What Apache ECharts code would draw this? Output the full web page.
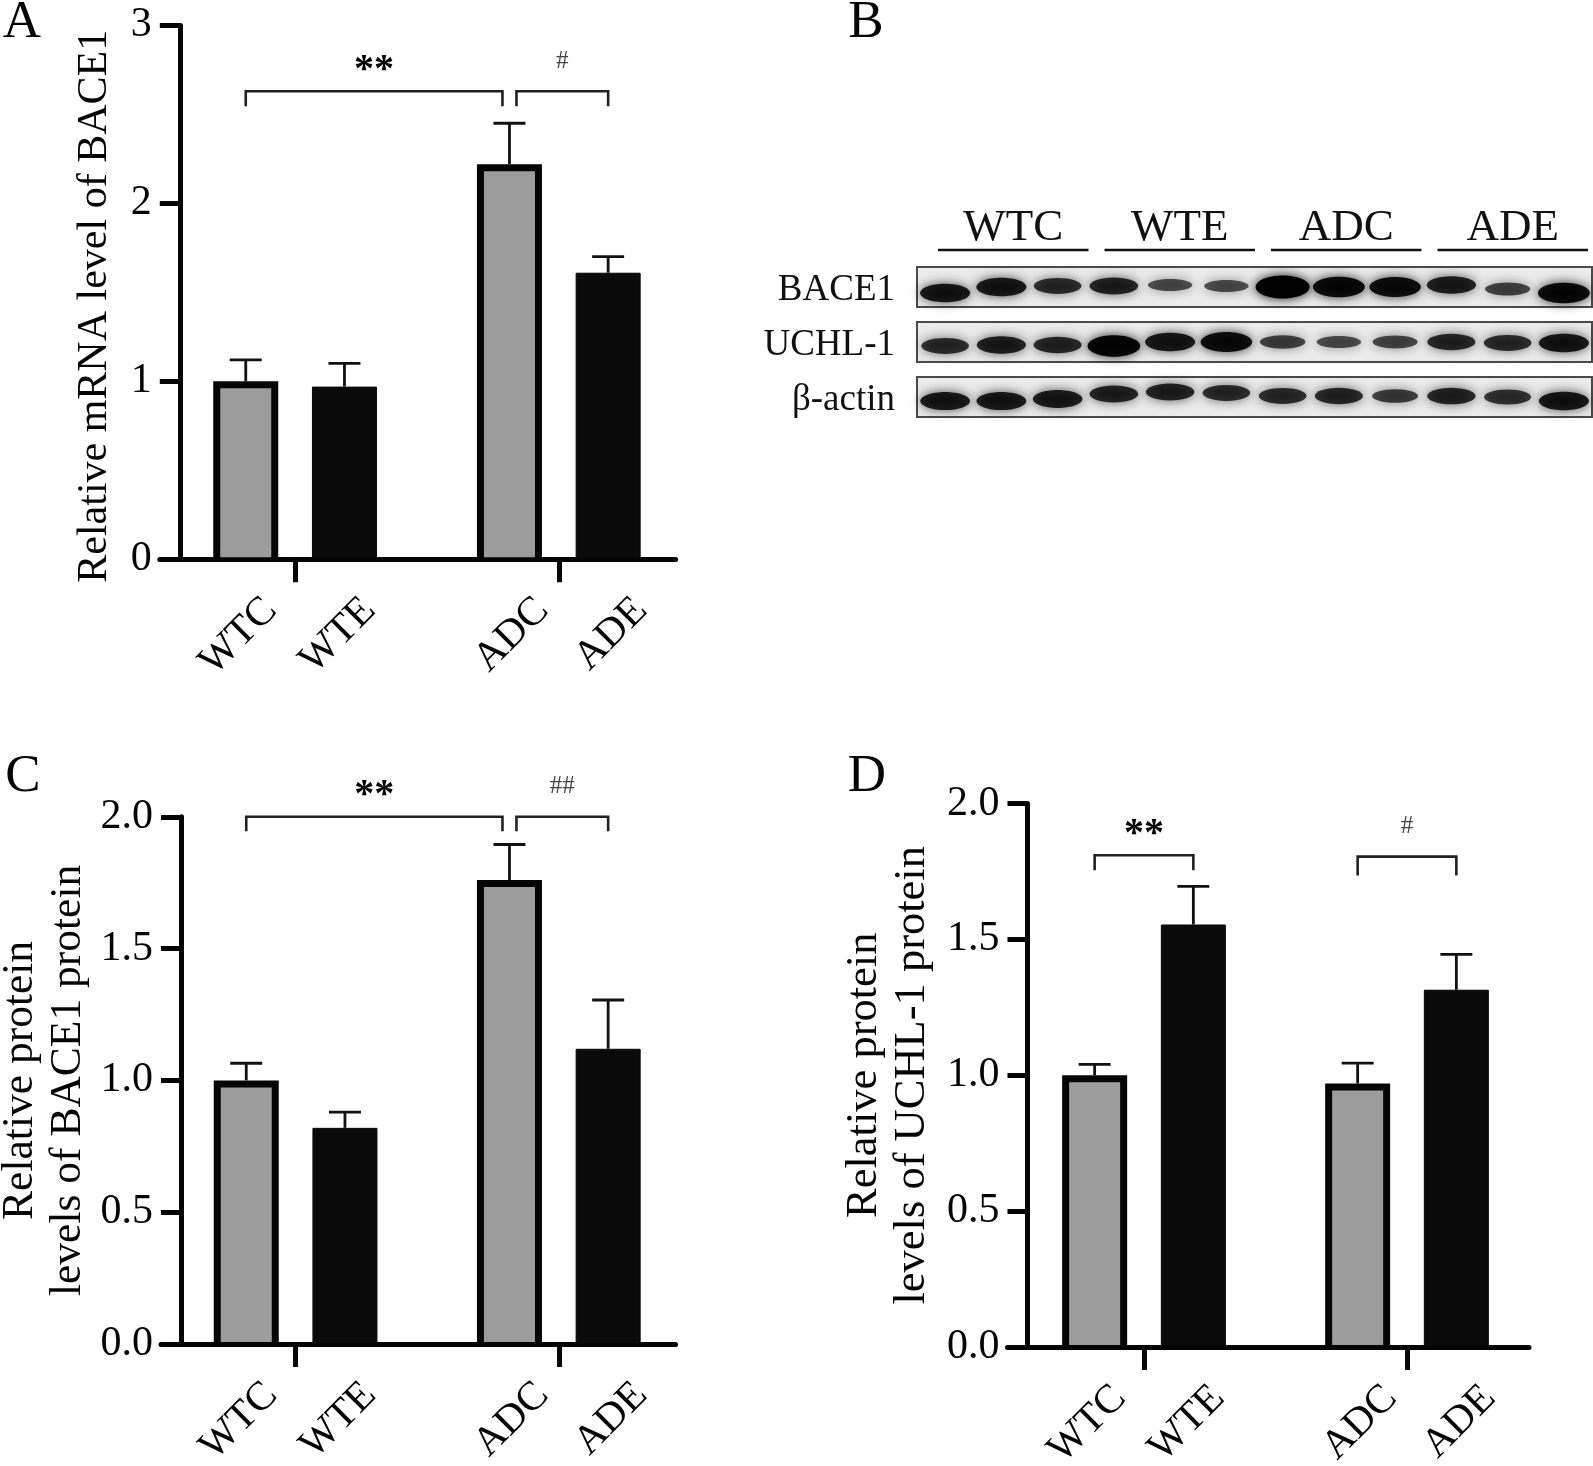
<!DOCTYPE html>
<html>
<head>
<meta charset="utf-8">
<style>html,body{margin:0;padding:0;background:#fff}#c{width:1593px;height:1466px}</style>
<script src="https://cdn.jsdelivr.net/npm/echarts@6/dist/echarts.min.js"></script>
</head>
<body>
<div id="c"></div>
<script>
// ---- data ----
const groups = ['WT', 'AD'];
const barLabels = ['WTC', 'WTE', 'ADC', 'ADE'];

const aControl = [1.0, 2.22];
const aExercise = [0.97, 1.61];
const aControlTop = [1.12, 2.45];
const aExerciseTop = [1.10, 1.70];
const aTicks = [0, 1, 2, 3];

const cControl = [1.0, 1.76];
const cExercise = [0.82, 1.12];
const cControlTop = [1.065, 1.895];
const cExerciseTop = [0.88, 1.305];
const cTicks = [0, 0.5, 1, 1.5, 2];

const dControl = [1.0, 0.97];
const dExercise = [1.555, 1.315];
const dControlTop = [1.04, 1.045];
const dExerciseTop = [1.695, 1.445];

// bracket: from bar, to bar, level, lower end of the legs
const aBrackets = [
  { from: 0, to: 2, level: 2.63, end: 2.545, text: '**', nudgeTo: -7 },
  { from: 2, to: 3, level: 2.63, end: 2.545, text: '#', nudgeFrom: 7 }
];
const cBrackets = [
  { from: 0, to: 2, level: 2.0, end: 1.945, text: '**', nudgeTo: -7 },
  { from: 2, to: 3, level: 2.0, end: 1.945, text: '##', nudgeFrom: 7 }
];
const dBrackets = [
  { from: 0, to: 1, level: 1.81, end: 1.755, text: '**' },
  { from: 2, to: 3, level: 1.805, end: 1.735, text: '#' }
];

const blotGroups = ['WTC', 'WTE', 'ADC', 'ADE'];
const blotRows = ['BACE1', 'UCHL-1', 'β-actin'];
const blotLanes = ['1','2','3','4','5','6','7','8','9','10','11','12'];
const bace1Bands = [0.72, 0.72, 0.55, 0.62, 0.32, 0.32, 1.0, 0.85, 0.82, 0.65, 0.38, 0.85];
const uchlBands = [0.55, 0.65, 0.58, 0.9, 0.72, 0.82, 0.4, 0.32, 0.36, 0.58, 0.55, 0.72];
const actinBands = [0.7, 0.7, 0.68, 0.62, 0.62, 0.55, 0.55, 0.58, 0.42, 0.6, 0.5, 0.72];
const bace1Shift = [6, 0, -1, -1, -2, -1, 0, 0, 0, -2, 2, 6];
const uchlShift = [4, 3, 3, 4, 0, 0, 0, 0, 0, 0, 1, 1];
const actinShift = [4, 4, 2, -3, -5, -4, -1, -1, -1, -1, 0, 4];

// ---- styling ----
const FONT = '"Liberation Serif","Times New Roman",serif';
const GREY = '#9c9c9c', INK = '#050505';
const BAR_W = 65, BORDER = 7, PITCH = 98.7;
const AXIS_W = 5;
const LABEL_NUDGE = [-8, 0];

const grid = [], xAxis = [], yAxis = [], series = [];

function panel(p) {
  const gi = grid.length;
  const band = p.tick2 - p.tick1;
  const left = p.tick1 - band / 2;
  const right = p.tick2 + band / 2;
  const h = p.bottom - p.top;
  // main grid
  grid.push({ left, width: right - left, top: p.top, height: h, outerBoundsMode: 'none' });
  xAxis.push({
    type: 'category', gridIndex: gi, data: groups,
    axisLine: { show: false },
    axisTick: { show: true, alignWithLabel: true, length: 23, lineStyle: { color: INK, width: AXIS_W } },
    axisLabel: { show: false }
  });
  yAxis.push({
    type: 'value', gridIndex: gi, min: 0, max: p.max, interval: p.interval,
    offset: left - p.axisX, splitLine: { show: false },
    axisLine: { show: true, onZero: false, lineStyle: { color: INK, width: AXIS_W } },
    axisTick: { show: true, length: 20, lineStyle: { color: INK, width: AXIS_W } },
    axisLabel: { fontFamily: FONT, fontSize: 42, color: INK, margin: 28, formatter: p.fmt },
    name: p.title, nameLocation: 'middle', nameGap: p.nameGap,
    nameTextStyle: { fontFamily: FONT, fontSize: p.titleSize, color: INK, lineHeight: 48, padding: p.namePad || 0 }
  });
  // frame grid that carries the baseline
  const fi = grid.length;
  const lineLeft = p.axisX - 20;
  grid.push({ left: lineLeft, width: p.lineRight - lineLeft, top: p.top, height: h, outerBoundsMode: 'none' });
  xAxis.push({
    type: 'value', gridIndex: fi, min: 0, max: 1, splitLine: { show: false },
    axisLine: { show: true, onZero: false, lineStyle: { color: INK, width: AXIS_W } },
    axisTick: { show: false }, axisLabel: { show: false }
  });
  yAxis.push({ type: 'value', gridIndex: fi, min: 0, max: 1, show: false });

  const ax = { xAxisIndex: gi, yAxisIndex: gi };
  const errs = [];
  p.control.forEach((v, g) => errs.push([g, p.controlTop[g], v, -1]));
  p.exercise.forEach((v, g) => errs.push([g, p.exerciseTop[g], v, 1]));
  series.push({
    type: 'custom', ...ax, z: 1, silent: true, data: errs, encode: { x: 0, y: 1 },
    renderItem: (params, api) => {
      const c = api.coord([api.value(0), api.value(1)]);
      const b = api.coord([api.value(0), api.value(2)]);
      const x = c[0] + api.value(3) * PITCH / 2;
      const st = { stroke: '#111', lineWidth: 2.8, fill: null };
      return { type: 'group', children: [
        { type: 'line', shape: { x1: x, y1: c[1], x2: x, y2: b[1] }, style: st },
        { type: 'line', shape: { x1: x - 16, y1: c[1], x2: x + 16, y2: c[1] }, style: st }
      ] };
    }
  });
  series.push({
    type: 'bar', ...ax, name: 'Control', z: 2, barWidth: BAR_W, barGap: ((PITCH - BAR_W) / BAR_W * 100) + '%',
    data: p.control,
    itemStyle: { color: GREY, borderColor: INK, borderWidth: BORDER }
  });
  series.push({
    type: 'bar', ...ax, name: 'Exercise', z: 2, barWidth: BAR_W,
    data: p.exercise,
    itemStyle: { color: '#0a0a0a', borderColor: INK, borderWidth: 1 }
  });
  // the grey bars open straight onto the baseline, with no bottom border of their own
  series.push({
    type: 'custom', ...ax, z: 3, silent: true, data: groups.map((g, i) => [i, 0]), encode: { x: 0, y: 1 },
    renderItem: (params, api) => {
      const c = api.coord([api.value(0), 0]);
      const w = BAR_W - 2 * BORDER;
      return { type: 'rect', shape: { x: c[0] - PITCH / 2 - w / 2, y: c[1] - BORDER - 1, width: w, height: BORDER - 1 },
        style: { fill: GREY } };
    }
  });

  // rotated bar labels under each bar
  const labelData = barLabels.map((t, i) => [Math.floor(i / 2), 0, i % 2 ? 1 : -1]);
  series.push({
    type: 'custom', ...ax, z: 3, silent: true, data: labelData, encode: { x: 0, y: 1 },
    renderItem: (params, api) => {
      const c = api.coord([api.value(0), 0]);
      return {
        type: 'text', x: c[0] + api.value(2) * PITCH / 2 + 33 + LABEL_NUDGE[api.value(0)], y: c[1] + 45, rotation: Math.PI / 4,
        style: { text: barLabels[params.dataIndex], font: '41px ' + FONT, fill: INK, align: 'right', verticalAlign: 'middle' }
      };
    }
  });

  // significance brackets
  const xOf = (api, i) => api.coord([Math.floor(i / 2), 0])[0] + (i % 2 ? 1 : -1) * PITCH / 2;
  series.push({
    type: 'custom', ...ax, z: 3, silent: true,
    data: p.brackets.map((b, i) => [b.from, b.level, i]), encode: { x: 0, y: 1 },
    renderItem: (params, api) => {
      const b = p.brackets[params.dataIndex];
      const x1 = xOf(api, b.from) + (b.nudgeFrom || 0);
      const x2 = xOf(api, b.to) + (b.nudgeTo || 0);
      const y1 = api.coord([0, b.level])[1];
      const y2 = api.coord([0, b.end])[1];
      const star = b.text === '**';
      return { type: 'group', children: [
        { type: 'polyline', shape: { points: [[x1, y2], [x1, y1], [x2, y1], [x2, y2]] },
          style: { stroke: '#222', lineWidth: 2.6, fill: null } },
        { type: 'text', x: (x1 + x2) / 2, y: y1 - (star ? 21 : 30),
          style: { text: b.text, font: star ? 'bold 40px ' + FONT : '25px ' + FONT,
                   fill: star ? INK : '#444', align: 'center', verticalAlign: 'middle' } }
      ] };
    }
  });
}

panel({ axisX: 179.8, top: 25.4, bottom: 559.2, lineRight: 675.6, tick1: 295.1, tick2: 558.8,
  max: aTicks[aTicks.length - 1], interval: aTicks[1] - aTicks[0], fmt: v => String(v),
  title: 'Relative mRNA level of BACE1', titleSize: 42, nameGap: 61, namePad: [0, 28, 0, 0],
  control: aControl, exercise: aExercise, controlTop: aControlTop, exerciseTop: aExerciseTop, brackets: aBrackets });

panel({ axisX: 181, top: 816.8, bottom: 1344, lineRight: 675.6, tick1: 295.6, tick2: 558.8,
  max: cTicks[cTicks.length - 1], interval: cTicks[1] - cTicks[0], fmt: v => v.toFixed(1),
  title: 'Relative protein\nlevels of BACE1 protein', titleSize: 43.5, nameGap: 88,
  control: cControl, exercise: cExercise, controlTop: cControlTop, exerciseTop: cExerciseTop, brackets: cBrackets });

panel({ axisX: 1027.5, top: 803.6, bottom: 1347, lineRight: 1529, tick1: 1144, tick2: 1407,
  max: cTicks[cTicks.length - 1], interval: cTicks[1] - cTicks[0], fmt: v => v.toFixed(1),
  title: 'Relative protein\nlevels of UCHL-1 protein', titleSize: 44.5, nameGap: 91,
  control: dControl, exercise: dExercise, controlTop: dControlTop, exerciseTop: dExerciseTop, brackets: dBrackets });

// ---- western blot ----
const blotIdx = grid.length;
grid.push({ left: 917, width: 675, top: 259.5, height: 165, outerBoundsMode: 'none' });
xAxis.push({ type: 'category', gridIndex: blotIdx, data: blotLanes, show: false });
yAxis.push({ type: 'category', gridIndex: blotIdx, data: blotRows, inverse: true, show: false });
const blotAx = { xAxisIndex: blotIdx, yAxisIndex: blotIdx };
series.push({
  type: 'custom', ...blotAx, z: 2, silent: true,
  data: blotRows.map((r, i) => [0, i]), encode: { x: 0, y: 1 },
  renderItem: (params, api) => {
    const y = api.coord([0, api.value(1)])[1];
    const s = params.coordSys;
    return { type: 'rect', shape: { x: s.x, y: y - 20, width: s.width, height: 40 },
      style: { fill: '#ebebeb', stroke: '#4a4a4a', lineWidth: 2 } };
  }
});
const bandData = [];
[[bace1Bands, bace1Shift], [uchlBands, uchlShift], [actinBands, actinShift]].forEach(([vals, shift], row) => {
  vals.forEach((v, lane) => bandData.push([lane, row, v, shift[lane]]));
});
series.push({
  type: 'custom', ...blotAx, z: 3, silent: true, data: bandData, encode: { x: 0, y: 1 },
  renderItem: (params, api) => {
    const c = api.coord([api.value(0), api.value(1)]);
    const v = api.value(2);
    const rx = 20 + 7 * v, ry = 3.5 + 8 * v;
    return { type: 'ellipse',
      shape: { cx: c[0], cy: c[1] + api.value(3), rx, ry },
      style: { fill: 'rgba(0,0,0,' + (0.45 + 0.55 * v) + ')', shadowBlur: 11, shadowColor: 'rgba(0,0,0,' + (0.45 + 0.5 * v) + ')' } };
  }
});

// row names sit a little below the middle of each blot strip
const rowIdx = grid.length;
grid.push({ left: 917, width: 675, top: 263, height: 165, outerBoundsMode: 'none' });
xAxis.push({ type: 'category', gridIndex: rowIdx, data: blotLanes, show: false });
yAxis.push({
  type: 'category', gridIndex: rowIdx, data: blotRows, inverse: true,
  axisLine: { show: false }, axisTick: { show: false },
  axisLabel: { fontFamily: FONT, fontSize: 37, color: '#111', margin: 22 }
});

// header over the blot
const headIdx = grid.length;
grid.push({ left: 930, width: 666, top: 249, height: 1, outerBoundsMode: 'none' });
xAxis.push({
  type: 'category', gridIndex: headIdx, data: blotGroups, position: 'top',
  axisLine: { show: false }, axisTick: { show: false },
  axisLabel: { fontFamily: FONT, fontSize: 45, color: '#111', margin: -2 }
});
yAxis.push({ type: 'value', gridIndex: headIdx, min: 0, max: 1, show: false });
series.push({
  type: 'custom', xAxisIndex: headIdx, yAxisIndex: headIdx, z: 3, silent: true,
  data: blotGroups.map((g, i) => [i, 0]), encode: { x: 0, y: 1 },
  renderItem: (params, api) => {
    const c = api.coord([api.value(0), 0]);
    const half = api.size([1, 0])[0] / 2 - 8;
    return { type: 'line', shape: { x1: c[0] - half, y1: c[1], x2: c[0] + half, y2: c[1] },
      style: { stroke: '#111', lineWidth: 2.6 } };
  }
});

const letter = (t, x, y) => ({ type: 'text', x, y,
  style: { text: t, font: '53px ' + FONT, fill: INK, textAlign: 'center', textVerticalAlign: 'middle' } });

const chart = echarts.init(document.getElementById('c'), null, { renderer: 'canvas' });
chart.setOption({
  animation: false, backgroundColor: '#fff', tooltip: { show: false },
  grid, xAxis, yAxis, series,
  graphic: [letter('A', 22, 23), letter('B', 866, 23), letter('C', 23, 777), letter('D', 867, 777)]
});
</script>
</body>
</html>
